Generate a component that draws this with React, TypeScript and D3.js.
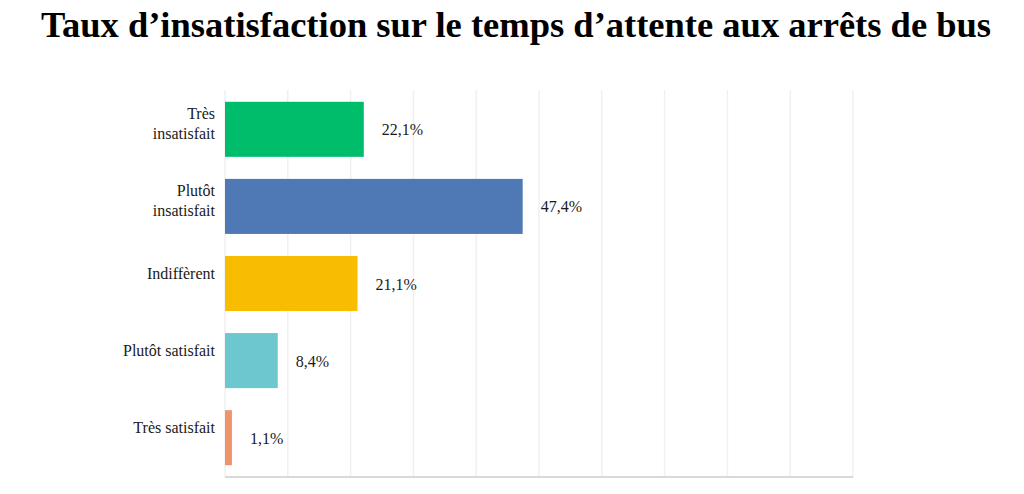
import { useEffect, useRef } from 'react';
import * as d3 from 'd3';

const width = 1024;
const height = 494;
const [mt, mr, mb, ml] = [90, 171, 17, 225];

const categories = [['Très', 'insatisfait'], ['Plutôt', 'insatisfait'], ['Indiffèrent'], ['Plutôt satisfait'], ['Très satisfait']];
const values = [22.1, 47.4, 21.1, 8.4, 1.1];
const labels = ['22,1%', '47,4%', '21,1%', '8,4%', '1,1%'];
const colors = ['#00bd6c', '#4e79b5', '#f8bd00', '#6cc7cf', '#f0936a'];
const xTicks = d3.range(0, 101, 10);

const font = '"Liberation Serif", "Times New Roman", serif';

export default function App() {
    const ref = useRef<SVGSVGElement>(null);

    useEffect(() => {
        const svg = d3.select(ref.current);
        svg.selectAll('*').remove();

        const x = d3.scaleLinear().domain([0, 100]).range([ml, width - mr]);
        const y = d3
            .scaleBand<number>()
            .domain(d3.range(values.length))
            .range([mt, height - mb])
            .paddingInner(0.286)
            .paddingOuter(0.153);

        // titre
        svg.append('text')
            .attr('x', width / 2 + 4)
            .attr('y', 37)
            .attr('text-anchor', 'middle')
            .style('font-family', font)
            .style('font-weight', 'bold')
            .style('font-size', '36.5px')
            .text('Taux d’insatisfaction sur le temps d’attente aux arrêts de bus');

        // grille
        svg.append('g')
            .selectAll('line')
            .data(xTicks)
            .join('line')
            .attr('x1', (d) => x(d))
            .attr('x2', (d) => x(d))
            .attr('y1', mt)
            .attr('y2', height - mb)
            .attr('stroke', '#f0f0f0')
            .attr('stroke-width', 1.5);

        svg.append('line')
            .attr('x1', ml)
            .attr('x2', width - mr)
            .attr('y1', height - mb)
            .attr('y2', height - mb)
            .attr('stroke', '#d9d9d9')
            .attr('stroke-width', 2);

        // barres
        svg.append('g')
            .selectAll('rect')
            .data(values)
            .join('rect')
            .attr('x', x(0))
            .attr('y', (_d, i) => y(i) as number)
            .attr('width', (d) => x(d) - x(0))
            .attr('height', y.bandwidth())
            .attr('fill', (_d, i) => colors[i]);

        // valeurs
        svg.append('g')
            .selectAll('text')
            .data(values)
            .join('text')
            .attr('x', (d) => x(d) + 18)
            .attr('y', (_d, i) => (y(i) as number) + y.bandwidth() / 2 + 6)
            .style('font-family', font)
            .style('font-size', '16px')
            .attr('fill', '#1a1a1a')
            .text((_d, i) => labels[i]);

        // catégories
        const cat = svg
            .append('g')
            .selectAll('text')
            .data(categories)
            .join('text')
            .attr('text-anchor', 'end')
            .attr('y', (_d, i) => (y(i) as number) + y.bandwidth() / 2)
            .style('font-family', font)
            .style('font-size', '16px')
            .attr('fill', '#1a1a1a');

        cat.selectAll('tspan')
            .data((d) => d.map((t, j) => ({ t, j, n: d.length })))
            .join('tspan')
            .attr('x', ml - 10)
            .attr('dy', (d) => (d.j === 0 ? (d.n > 1 ? '-10px' : '-5px') : '20px'))
            .text((d) => d.t);
    }, []);

    return <svg ref={ref} width={width} height={height} style={{ position: 'absolute', left: 0, top: 0 }} />;
}
